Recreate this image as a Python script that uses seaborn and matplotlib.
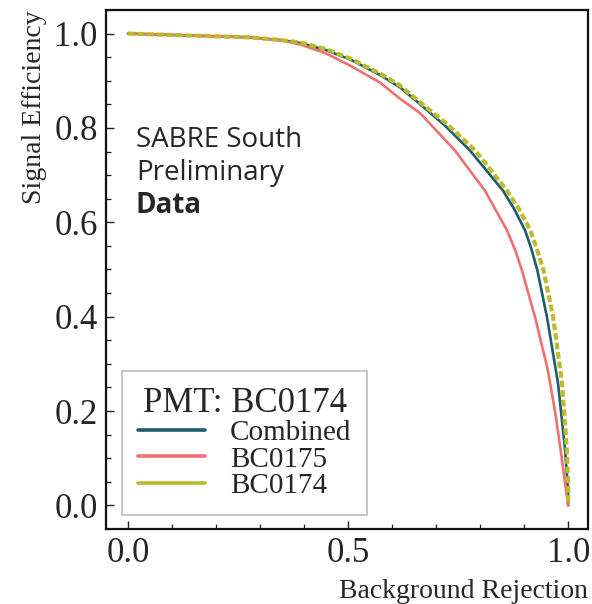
import numpy as np
import pandas as pd
import matplotlib
matplotlib.use("Agg")
import matplotlib.pyplot as plt
from matplotlib.lines import Line2D
import seaborn as sns

# ---- data ----
x_comb = [0.0, 0.277, 0.35, 0.391, 0.45, 0.505, 0.573, 0.618, 0.664, 0.72, 0.777, 0.852, 0.878, 0.902, 0.916, 0.930, 0.952, 0.977, 0.993, 0.999, 1.0]
y_comb = [1.0, 0.992, 0.986, 0.980, 0.965, 0.945, 0.912, 0.886, 0.850, 0.805, 0.752, 0.667, 0.627, 0.583, 0.545, 0.498, 0.398, 0.258, 0.117, 0.040, 0.0]

x_b175 = [0.0, 0.277, 0.35, 0.391, 0.45, 0.505, 0.573, 0.618, 0.664, 0.743, 0.811, 0.861, 0.880, 0.895, 0.925, 0.953, 0.970, 0.983, 0.994, 1.0]
y_b175 = [1.0, 0.992, 0.985, 0.977, 0.958, 0.932, 0.896, 0.862, 0.831, 0.752, 0.667, 0.583, 0.540, 0.498, 0.398, 0.290, 0.200, 0.117, 0.040, 0.0]

x_b174 = [0.0, 0.277, 0.35, 0.391, 0.45, 0.505, 0.573, 0.618, 0.664, 0.725, 0.789, 0.861, 0.889, 0.914, 0.930, 0.944, 0.966, 0.986, 0.997, 1.0, 1.0]
y_b174 = [1.0, 0.992, 0.986, 0.981, 0.967, 0.947, 0.915, 0.890, 0.854, 0.808, 0.752, 0.667, 0.627, 0.583, 0.540, 0.498, 0.398, 0.258, 0.117, 0.040, 0.0]

series = ["Combined", "BC0175", "BC0174"]
colors = {"Combined": "#1c5b70", "BC0175": "#f07070", "BC0174": "#bcbc2a"}
legend_title = "PMT: BC0174"
x_ticks = [0.0, 0.5, 1.0]
y_ticks = [0.0, 0.2, 0.4, 0.6, 0.8, 1.0]

df = pd.concat([
    pd.DataFrame({"x": x_comb, "y": y_comb, "s": "Combined"}),
    pd.DataFrame({"x": x_b175, "y": y_b175, "s": "BC0175"}),
    pd.DataFrame({"x": x_b174, "y": y_b174, "s": "BC0174"}),
])

sns.set_style("ticks")
plt.rcParams["font.family"] = ["Liberation Serif", "DejaVu Serif"]
plt.rcParams["mathtext.fontset"] = "stix"

fig = plt.figure(figsize=(5.92, 6.04), dpi=100)
ax = fig.add_axes([106 / 592, 1 - 529 / 604, (588 - 106) / 592, (529 - 10) / 604])

widths = {"Combined": 1.9, "BC0175": 1.9, "BC0174": 3.0}
for s in series:
    sub = df[df["s"] == s]
    sns.lineplot(data=sub, x="x", y="y", ax=ax, color=colors[s], sort=False,
                 linewidth=widths[s], estimator=None, legend=False)
lines = ax.get_lines()
lines[2].set_dashes((1.6, 0.7))
lines[2].set_dash_capstyle("butt")

ax.set_xlim(-0.05, 1.045)
ax.set_ylim(-0.05, 1.05)
ax.set_xticks(x_ticks)
ax.set_yticks(y_ticks)
ax.set_xticklabels([f"{t:.1f}" for t in x_ticks])
ax.set_yticklabels([f"{t:.1f}" for t in y_ticks])
ax.xaxis.set_minor_locator(matplotlib.ticker.MultipleLocator(0.1))
ax.yaxis.set_minor_locator(matplotlib.ticker.MultipleLocator(0.05))
ax.tick_params(which="both", direction="in", top=False, right=False, color="#222222")
ax.tick_params(which="major", length=6, width=1.0, labelsize=25, pad=6)
ax.tick_params(which="minor", length=3.5, width=0.9)
for sp in ax.spines.values():
    sp.set_linewidth(1.6)
    sp.set_color("#111111")

ax.set_xlabel("Background Rejection", fontsize=20, loc="right", labelpad=6)
ax.set_ylabel("Signal Efficiency", fontsize=20, loc="top", labelpad=5)

handles = [Line2D([0], [0], color=colors[s], linewidth=2.6) for s in series]
leg = ax.legend(handles, series, title=legend_title, loc="lower left",
                bbox_to_anchor=(0.033, 0.027), borderaxespad=0, fontsize=21,
                title_fontsize=25, frameon=True, fancybox=False, framealpha=1,
                edgecolor="#bbbbbb", labelspacing=0.0, handlelength=2.3,
                handletextpad=0.85, borderpad=0.55)
leg.get_frame().set_linewidth(1.2)

ff = ["Open Sans", "DejaVu Sans"]
fig.text(136 / 592, 1 - 147 / 604, "SABRE South", family=ff, fontsize=20, va="baseline")
fig.text(136 / 592, 1 - 180 / 604, "Preliminary", family=ff, fontsize=20, va="baseline")
fig.text(136 / 592, 1 - 213 / 604, "Data", family=ff, fontsize=20, va="baseline", weight="bold")

fig.savefig("out.png", dpi=100)
